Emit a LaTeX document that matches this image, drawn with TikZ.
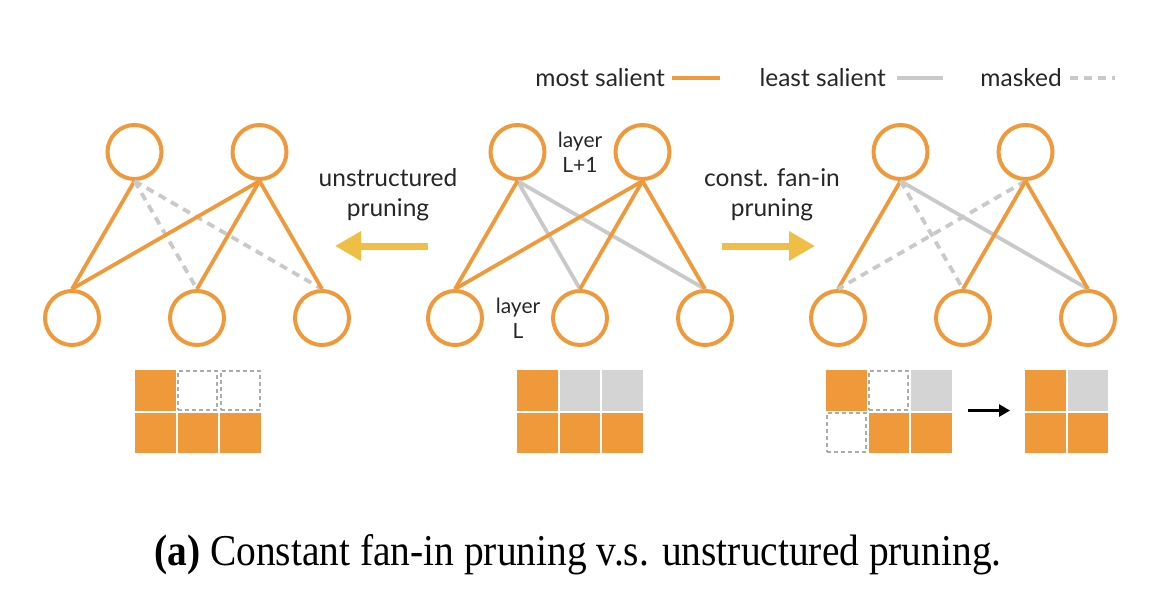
\documentclass[tikz,border=0pt]{standalone}
\usepackage{fontspec}
\setmainfont{Liberation Serif}
\newfontfamily\labelfont{Lato}
\usepackage{tikz}
\usetikzlibrary{positioning,arrows.meta}
\definecolor{salient}{HTML}{F0993A}
\definecolor{weak}{HTML}{C9C9C9}
\definecolor{cellgray}{HTML}{D4D4D4}
\definecolor{prune}{HTML}{EFBF45}

\begin{document}
\begin{tikzpicture}[x=1pt,y=-1pt]
\tikzstyle{neuron}=[circle, draw=salient, line width=4pt, fill=white, minimum size=54pt, inner sep=0pt, node distance=125pt]
\tikzstyle{most}=[draw=salient, line width=3.8pt]
\tikzstyle{least}=[draw=weak, line width=3.8pt]
\tikzstyle{masked}=[draw=weak, line width=3.8pt, dash pattern=on 8pt off 6pt]
\tikzstyle{cell}=[minimum size=40.5pt, inner sep=0pt, outer sep=0pt, node distance=42.5pt]
\tikzstyle{hot}=[cell, fill=salient]
\tikzstyle{cold}=[cell, fill=cellgray]
\tikzstyle{gone}=[cell, draw=weak!85!black, line width=1.8pt, dash pattern=on 4pt off 3pt, minimum size=39pt]
\tikzstyle{txt}=[font=\labelfont\fontsize{24.5}{30}\selectfont, align=center, inner sep=0pt, text=black!85]
\tikzstyle{small}=[font=\labelfont\fontsize{21}{25}\selectfont, align=center, inner sep=0pt, text=black!85]
\tikzstyle{prunearrow}=[draw=prune, line width=7pt, -{Triangle[length=26pt,width=28pt]}]
\useasboundingbox (0,0) rectangle (1172,610);

% legend
\draw node [txt, anchor=east] (lgMost) at (665,78) {most salient};
\draw node [txt, anchor=east] (lgLeast) at (886,78) {least salient};
\draw node [txt, anchor=east] (lgMask) at (1062,78) {masked};
\coordinate (lgMostEnd) at (720,78);
\coordinate (lgLeastEnd) at (943,78);
\coordinate (lgMaskEnd) at (1115,78);
\draw [most, shorten <=7pt] (lgMost.east) -- (lgMostEnd);
\draw [least, shorten <=11pt] (lgLeast.east) -- (lgLeastEnd);
\draw [masked, shorten <=8pt] (lgMask.east) -- (lgMaskEnd);

% unstructured (left)
\draw node at (72,318) [neuron] (uB1) {};
\draw node [neuron, right of=uB1] (uB2) {};
\draw node [neuron, right of=uB2] (uB3) {};
\draw node at (134.5,152) [neuron] (uT1) {};
\draw node [neuron, right of=uT1] (uT2) {};

\draw [most] (uT1.south) -- (uB1.north);
\draw [masked] (uT1.south) -- (uB2.north);
\draw [masked] (uT1.south) -- (uB3.north);
\draw [most] (uT2.south) -- (uB1.north);
\draw [most] (uT2.south) -- (uB2.north);
\draw [most] (uT2.south) -- (uB3.north);

% original (middle)
\draw node at (455,318) [neuron] (oB1) {};
\draw node [neuron, right of=oB1] (oB2) {};
\draw node [neuron, right of=oB2] (oB3) {};
\draw node at (517.5,152) [neuron] (oT1) {};
\draw node [neuron, right of=oT1] (oT2) {};

\draw [least] (oT1.south) -- (oB2.north);
\draw [least] (oT1.south) -- (oB3.north);
\draw [most] (oT1.south) -- (oB1.north);
\draw [most] (oT2.south) -- (oB1.north);
\draw [most] (oT2.south) -- (oB2.north);
\draw [most] (oT2.south) -- (oB3.north);

\draw node [small] (upLayer) at (580,152) {layer\\L+1};
\draw node [small] (lowLayer) at (518,318) {layer\\L};

% const. fan-in (right)
\draw node at (838,318) [neuron] (cB1) {};
\draw node [neuron, right of=cB1] (cB2) {};
\draw node [neuron, right of=cB2] (cB3) {};
\draw node at (900.5,152) [neuron] (cT1) {};
\draw node [neuron, right of=cT1] (cT2) {};

\draw [most] (cT1.south) -- (cB1.north);
\draw [masked] (cT1.south) -- (cB2.north);
\draw [least] (cT1.south) -- (cB3.north);
\draw [masked] (cT2.south) -- (cB1.north);
\draw [most] (cT2.south) -- (cB2.north);
\draw [most] (cT2.south) -- (cB3.north);

% arrows between the networks
\draw node [txt] (unsLabel) at (388,195) {unstructured\\pruning};
\draw node [txt] (cfiLabel) at (772,195) {const. fan-in\\pruning};
\coordinate (unsTail) at (428,246);
\coordinate (unsTip) at (335,246);
\coordinate (cfiTail) at (722,246);
\coordinate (cfiTip) at (815,246);
\draw [prunearrow] (unsTail) -- (unsTip);
\draw [prunearrow] (cfiTail) -- (cfiTip);

% weight matrices
\draw node at (155.3,390.3) [hot] (U11) {};
\draw node [gone, right of=U11] (U12) {};
\draw node [gone, right of=U12] (U13) {};
\draw node [hot, below of=U11] (U21) {};
\draw node [hot, right of=U21] (U22) {};
\draw node [hot, right of=U22] (U23) {};

\draw node at (537.3,390.3) [hot] (O11) {};
\draw node [cold, right of=O11] (O12) {};
\draw node [cold, right of=O12] (O13) {};
\draw node [hot, below of=O11] (O21) {};
\draw node [hot, right of=O21] (O22) {};
\draw node [hot, right of=O22] (O23) {};

\draw node at (846.3,390.3) [hot] (C11) {};
\draw node [gone, right of=C11] (C12) {};
\draw node [cold, right of=C12] (C13) {};
\draw node [gone, below of=C11] (C21) {};
\draw node [hot, right of=C21] (C22) {};
\draw node [hot, right of=C22] (C23) {};

\draw node at (1045.3,390.3) [hot] (S11) {};
\draw node [cold, right of=S11] (S12) {};
\draw node [hot, below of=S11] (S21) {};
\draw node [hot, right of=S21] (S22) {};

\draw [line width=2.5pt, -{Triangle[length=11pt,width=12pt]}, shorten <=16pt, shorten >=15pt] (C13.south east) -- (S11.south west);

% caption
\draw node at (578,555) (caption) {\fontsize{44}{50}\selectfont\scalebox{0.896}[1]{\textbf{(a)} Constant fan-in pruning v.s. unstructured pruning.}};
\end{tikzpicture}
\end{document}
